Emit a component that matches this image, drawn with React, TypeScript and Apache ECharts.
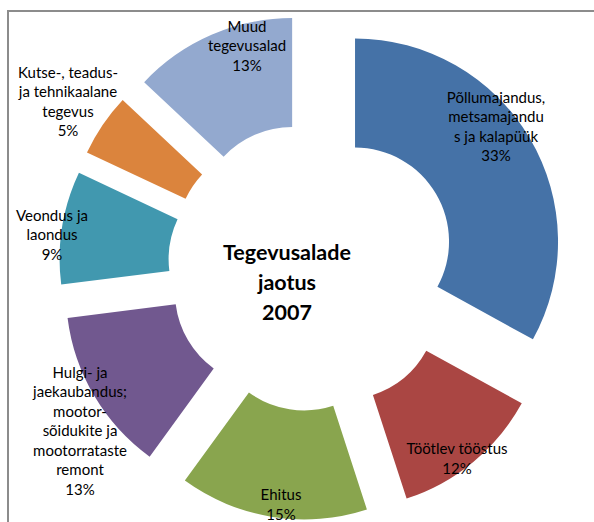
import React, { useEffect, useRef } from "react";
import * as echarts from "echarts";

const categories = [
  "Põllumajandus, metsamajandus ja kalapüük",
  "Töötlev tööstus",
  "Ehitus",
  "Hulgi- ja jaekaubandus; mootorsõidukite ja mootorrataste remont",
  "Veondus ja laondus",
  "Kutse-, teadus- ja tehnikaalane tegevus",
  "Muud tegevusalad",
];
const labelLines = [
  "Põllumajandus,\nmetsamajandu\ns ja kalapüük",
  "Töötlev tööstus",
  "Ehitus",
  "Hulgi- ja\njaekaubandus;\nmootor-\nsõidukite ja\nmootorrataste\nremont",
  "Veondus ja\nlaondus",
  "Kutse-, teadus-\nja tehnikaalane\ntegevus",
  "Muud\ntegevusalad",
];
const values = [33, 12, 15, 13, 9, 5, 13];
const colors = ["#4572A7", "#AA4643", "#89A54E", "#71588F", "#4198AF", "#DB843D", "#93A9CF"];
// label centre positions (layout only)
const labelPos: [number, number][] = [
  [496, 126],
  [457, 458],
  [281, 504],
  [80, 430],
  [52, 234],
  [68, 101],
  [247, 45],
];
const titleText = "Tegevusalade\njaotus\n2007";

export default function App() {
  const ref = useRef<HTMLDivElement>(null);
  useEffect(() => {
    if (!ref.current) return;
    const chart = echarts.init(ref.current, null, { renderer: "svg" });
    const total = values.reduce((a, b) => a + b, 0);
    const labelTexts = values.map(
      (v, i) => labelLines[i] + "\n" + Math.round((v / total) * 100) + "%"
    );
    chart.setOption({
      animation: false,
      backgroundColor: "#ffffff",
      graphic: [
        { type: "line", shape: { x1: 8, y1: 11, x2: 594, y2: 11 }, style: { stroke: "#8c8c8c", lineWidth: 2 } },
        { type: "line", shape: { x1: 8, y1: 10, x2: 8, y2: 522 }, style: { stroke: "#8c8c8c", lineWidth: 2 } },
        {
          type: "text",
          x: 287,
          y: 282,
          z: 100,
          style: {
            text: titleText,
            font: "bold 21.5px Lato",
            fill: "#000000",
            align: "center",
            verticalAlign: "middle",
            lineHeight: 30,
          },
        },
        ...labelTexts.map((t, i) => ({
          type: "text",
          x: labelPos[i][0],
          y: labelPos[i][1],
          z: 100,
          style: {
            text: t,
            font: "15px Lato",
            fill: "#000000",
            align: "center",
            verticalAlign: "middle",
            lineHeight: 19.5,
          },
        })),
      ],
      series: [
        {
          type: "pie",
          center: [312, 267],
          radius: [94, 203],
          startAngle: 90,
          clockwise: true,
          selectedMode: "multiple",
          selectedOffset: 50,
          avoidLabelOverlap: false,
          emphasis: { disabled: true },
          itemStyle: { borderWidth: 0 },
          label: { show: false },
          labelLine: { show: false },
          data: categories.map((name, i) => ({
            name,
            value: values[i],
            selected: true,
            itemStyle: { color: colors[i] },
          })),
        },
      ],
    });
    return () => chart.dispose();
  }, []);
  return (
    <div
      ref={ref}
      style={{ position: "fixed", left: 0, top: 0, width: 594, height: 522 }}
    />
  );
}
